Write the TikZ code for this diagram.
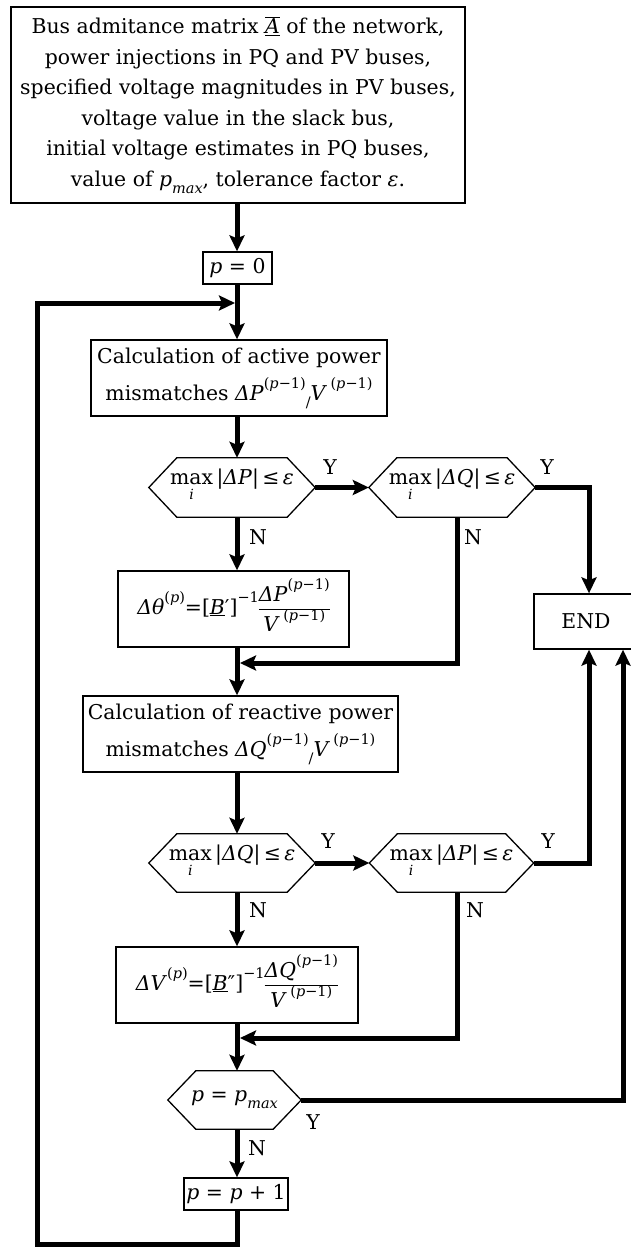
\documentclass[tikz,border=0pt]{standalone}
\usepackage{fontspec}
\setmainfont{DejaVu Serif}
\usetikzlibrary{arrows.meta}
\newcommand{\hexdraw}[2]{\draw[line width=1.3pt] ([xshift=#2]#1.north west) -- ([xshift=-#2]#1.north east) -- (#1.east) -- ([xshift=-#2]#1.south east) -- ([xshift=#2]#1.south west) -- (#1.west) -- cycle;}
\newcommand{\I}[1]{\textit{#1}}
\newcommand{\sps}[1]{\raisebox{0.55em}{\fontsize{14.5}{14.5}\selectfont #1}}
\newcommand{\sbs}[1]{\raisebox{-0.35em}{\fontsize{14.5}{14.5}\selectfont #1}}
\newcommand{\pmo}{\sps{(\I{p}−1)}}
\newcommand{\maxi}{\begin{tabular}[t]{@{}c@{}}max\\[-9pt]{\fontsize{14}{14}\selectfont\I{i}}\end{tabular}}
\newcommand{\fracx}[2]{{\renewcommand{\arraystretch}{0.8}\setlength{\arrayrulewidth}{1pt}\begin{tabular}{@{}c@{}}#1\\\hline #2\end{tabular}}}
\begin{document}
\begin{tikzpicture}[x=1pt,y=-1pt,
  box/.style={draw, line width=1.3pt, inner sep=0pt, align=center, font=\fontsize{20.4}{30.5}\selectfont},
  hexnode/.style={inner sep=0pt, font=\fontsize{20.4}{24}\selectfont},
  conn/.style={line width=5pt, -{Stealth[length=16pt,width=15pt,inset=3pt]}},
  lbl/.style={font=\fontsize{20.4}{24}\selectfont, inner sep=0pt}]
\path[use as bounding box] (0,0) rectangle (631,1247);
\clip (0,0) rectangle (631,1247);

% nodes
\node[box, minimum width=454, minimum height=196] (top) at (238,105) {Bus admitance matrix $\overline{\hbox{\underline{\I{A}}}}$ of the network,\\ power injections in PQ and PV buses,\\ specified voltage magnitudes in PV buses,\\ voltage value in the slack bus,\\ initial voltage estimates in PQ buses,\\ value of \I{p}\sbs{\I{max}}, tolerance factor \I{ε}.};
\node[box, minimum width=69, minimum height=32] (p0) at (237.5,268) {\I{p} = 0};
\node[box, minimum width=296, minimum height=76, font=\fontsize{20.4}{37}\selectfont] (act) at (239,378) {Calculation of active power\\ mismatches \I{ΔP}\pmo\sbs{/}\I{V}\,\pmo};
\node[hexnode, minimum width=166, minimum height=59] (d1) at (232,487.5) {\maxi\,|\I{ΔP}|\,≤\,\I{ε}};
\hexdraw{d1}{28}
\node[hexnode, minimum width=166, minimum height=59] (d2) at (452,487.5) {\maxi\,|\I{ΔQ}|\,≤\,\I{ε}};
\hexdraw{d2}{28}
\node[box, minimum width=231, minimum height=76] (dth) at (233.5,609) {\I{Δθ}\sps{(\I{p})}=[\underline{\I{B}}′]\sps{−1}\fracx{\I{ΔP}\pmo}{\I{V}\,\pmo}};
\node[box, minimum width=104, minimum height=55] (endb) at (586,621.5) {END};
\node[box, minimum width=315, minimum height=76, font=\fontsize{20.4}{37}\selectfont] (react) at (240.5,734) {Calculation of reactive power\\ mismatches \I{ΔQ}\pmo\sbs{/}\I{V}\,\pmo};
\node[hexnode, minimum width=166, minimum height=58] (d3) at (232,863) {\maxi\,|\I{ΔQ}|\,≤\,\I{ε}};
\hexdraw{d3}{28}
\node[hexnode, minimum width=164, minimum height=58] (d4) at (451.5,863) {\maxi\,|\I{ΔP}|\,≤\,\I{ε}};
\hexdraw{d4}{28}
\node[box, minimum width=242, minimum height=76] (dV) at (237,985) {\I{ΔV}\sps{(\I{p})}=[\underline{\I{B}}″]\sps{−1}\fracx{\I{ΔQ}\pmo}{\I{V}\,\pmo}};
\node[hexnode, minimum width=133, minimum height=58] (d5) at (234.5,1100) {\I{p} = \I{p}\sbs{\I{max}}};
\hexdraw{d5}{28}
\node[box, minimum width=104, minimum height=32] (pp1) at (236,1194) {\I{p} = \I{p} + 1};

% helper coordinates
\coordinate (mx) at (237,0);
\coordinate (ex1) at (589,0);
\coordinate (ex2) at (623,0);
\coordinate (nx) at (457,0);
\coordinate (m1) at (240,663);
\coordinate (m2) at (240,1038);
\coordinate (lb) at (37,1244);
\coordinate (lt) at (37,303);
\coordinate (lj) at (235,303);

% main flow
\draw[conn] (top.south -| mx) -- (p0.north -| mx);
\draw[conn] (p0.south -| mx) -- (act.north -| mx);
\draw[conn] (act.south -| mx) -- (d1.north -| mx);
\draw[conn] (d1.south -| mx) -- (dth.north -| mx);
\draw[conn] (dth.south -| mx) -- (react.north -| mx);
\draw[conn] (react.south -| mx) -- (d3.north -| mx);
\draw[conn] (d3.south -| mx) -- (dV.north -| mx);
\draw[conn] (dV.south -| mx) -- (d5.north -| mx);
\draw[conn] (d5.south -| mx) -- (pp1.north -| mx);
\draw[conn] (pp1.south -| mx) |- (lb) -- (lt) -- (lj);

% branches
\draw[conn] (d1.east) -- (d2.west);
\draw[conn] (d3.east) -- (d4.west);
\draw[conn] (d2.east) -| (endb.north -| ex1);
\draw[conn] (d4.east) -| (endb.south -| ex1);
\draw[conn] (d5.east) -| (endb.south -| ex2);
\draw[conn] (d2.south -| nx) |- (m1);
\draw[conn] (d4.south -| nx) |- (m2);

% labels
\node[lbl] (y1) at (330,467) {Y};
\node[lbl] (y2) at (547,467) {Y};
\node[lbl] (n1) at (258,537) {N};
\node[lbl] (n2) at (473,537) {N};
\node[lbl] (y3) at (328,841) {Y};
\node[lbl] (y4) at (548,841) {Y};
\node[lbl] (n3) at (258,910) {N};
\node[lbl] (n4) at (475,910) {N};
\node[lbl] (y5) at (313,1122) {Y};
\node[lbl] (n5) at (257,1148) {N};
\end{tikzpicture}
\end{document}
